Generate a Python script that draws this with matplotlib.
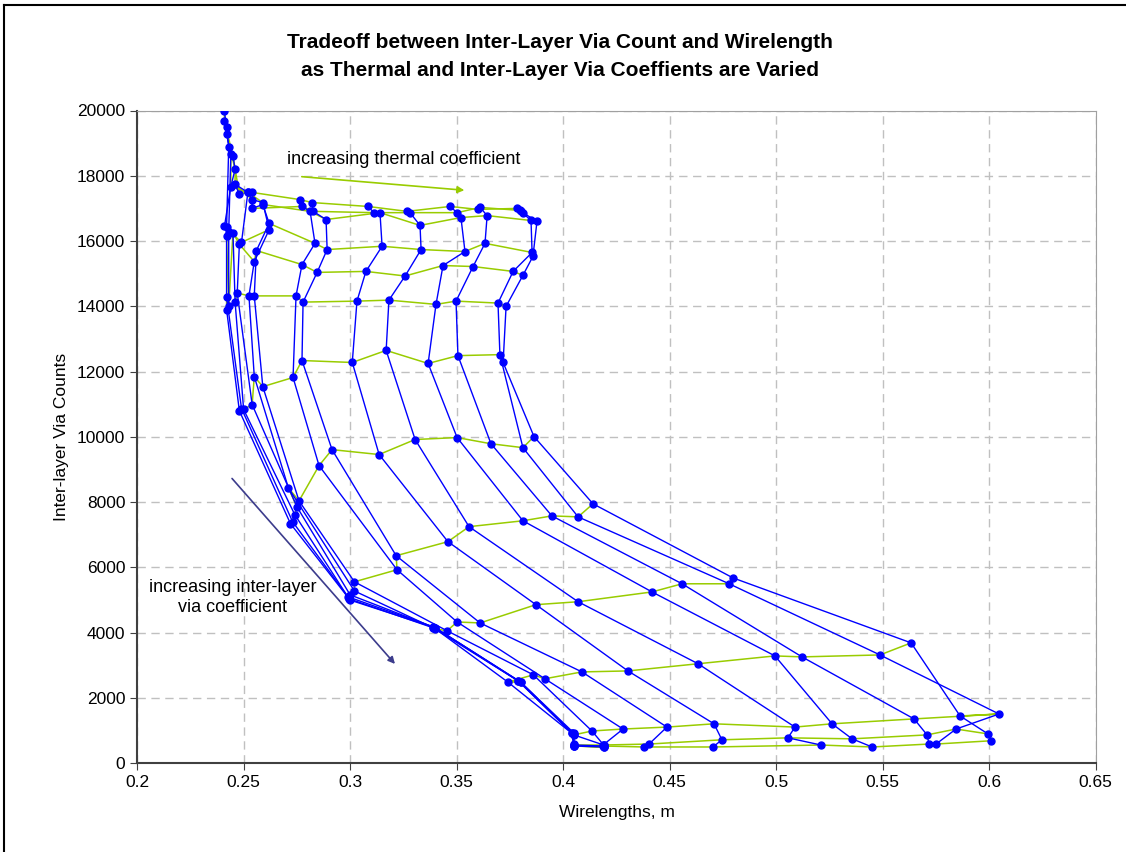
import matplotlib
matplotlib.use("Agg")
import matplotlib.pyplot as plt
from matplotlib.lines import Line2D

plt.rcParams['font.family'] = ['Liberation Sans', 'DejaVu Sans']

# each thermal coefficient -> one blue curve; points ordered by increasing
# inter-layer via coefficient (same index = same via coefficient -> green line)
wl_k1 = [0.241, 0.242, 0.243, 0.242, 0.242, 0.242, 0.249, 0.273, 0.299, 0.339, 0.379, 0.404, 0.405, 0.405]
via_k1 = [19970, 19480, 18870, 16420, 16170, 14280, 10870, 7400, 5100, 4180, 2520, 930, 560, 530]
wl_k2 = [0.241, 0.242, 0.244, 0.243, 0.243, 0.242, 0.248, 0.272, 0.300, 0.340, 0.380, 0.405, 0.405, 0.419]
via_k2 = [19670, 19270, 18660, 16290, 14000, 13900, 10800, 7340, 5000, 4150, 2490, 900, 530, 500]
wl_t1 = [0.245, 0.246, 0.244, 0.241, 0.245, 0.246, 0.250, 0.274, 0.2995, 0.339, 0.379, 0.404, 0.405, 0.405]
via_t1 = [18600, 18200, 17670, 16450, 16260, 14130, 10840, 7620, 5040, 4150, 2520, 930, 590, 530]
wl_t2 = [0.248, 0.246, 0.252, 0.249, 0.248, 0.247, 0.254, 0.275, 0.300, 0.340, 0.380, 0.405, 0.405, 0.419]
via_t2 = [17430, 17740, 17490, 15960, 15900, 14410, 10990, 7860, 5160, 4150, 2490, 930, 560, 530]
wl_t3 = [0.252, 0.254, 0.259, 0.262, 0.255, 0.2525, 0.255, 0.271, 0.302, 0.340, 0.374, 0.405, 0.419, 0.419]
via_t3 = [17490, 17270, 17180, 16350, 15370, 14320, 11850, 8440, 5280, 4120, 2490, 870, 560, 500]
wl_t4 = [0.254, 0.254, 0.259, 0.262, 0.256, 0.255, 0.259, 0.276, 0.302, 0.3455, 0.386, 0.4135, 0.419, 0.419]
via_t4 = [17490, 17000, 17120, 16540, 15710, 14320, 11540, 8040, 5560, 4060, 2710, 990, 560, 530]
wl_t5 = [0.2765, 0.2774, 0.2812, 0.2835, 0.2774, 0.2746, 0.2732, 0.2854, 0.322, 0.3502, 0.3914, 0.4281, 0.4187, 0.4187]
via_t5 = [17270, 17060, 16910, 15930, 15280, 14320, 11820, 9120, 5930, 4330, 2590, 1050, 560, 530]
wl_t6 = [0.2821, 0.2826, 0.2887, 0.2892, 0.2845, 0.2779, 0.2774, 0.2915, 0.3216, 0.361, 0.4088, 0.4487, 0.4403, 0.438]
via_t6 = [17180, 16910, 16660, 15740, 15040, 14130, 12340, 9610, 6360, 4300, 2800, 1110, 590, 500]
wl_t7 = [0.3084, 0.3112, 0.314, 0.315, 0.3074, 0.3032, 0.301, 0.3136, 0.3459, 0.3872, 0.4304, 0.4708, 0.4745, 0.4703]
via_t7 = [17060, 16870, 16870, 15840, 15070, 14160, 12280, 9460, 6790, 4860, 2830, 1210, 720, 500]
wl_t8 = [0.3267, 0.3281, 0.3328, 0.3333, 0.3258, 0.3182, 0.3169, 0.3305, 0.3558, 0.407, 0.4633, 0.5088, 0.5055, 0.521]
via_t8 = [16910, 16870, 16480, 15740, 14930, 14190, 12650, 9920, 7250, 4950, 3050, 1110, 780, 560]
wl_t9 = [0.3469, 0.3502, 0.352, 0.3539, 0.3436, 0.3403, 0.3366, 0.3502, 0.3811, 0.4417, 0.4994, 0.5262, 0.5356, 0.545]
via_t9 = [17060, 16870, 16720, 15680, 15250, 14060, 12250, 9980, 7430, 5250, 3290, 1210, 750, 500]
wl_t10 = [0.360, 0.361, 0.3643, 0.3633, 0.3577, 0.3497, 0.3506, 0.3661, 0.3947, 0.4558, 0.5121, 0.5647, 0.5708, 0.5717]
via_t10 = [16970, 17030, 16780, 15930, 15220, 14160, 12490, 9790, 7580, 5500, 3260, 1360, 870, 590]
wl_t11 = [0.3783, 0.3797, 0.3849, 0.3854, 0.3765, 0.3694, 0.3703, 0.3811, 0.407, 0.4779, 0.5487, 0.6046, 0.5844, 0.575]
via_t11 = [17000, 16940, 16630, 15650, 15070, 14100, 12520, 9670, 7550, 5500, 3320, 1510, 1050, 590]
wl_t12 = [0.3802, 0.3811, 0.3877, 0.3858, 0.3811, 0.3732, 0.3718, 0.3863, 0.414, 0.4797, 0.5633, 0.5863, 0.5994, 0.6008]
via_t12 = [16910, 16870, 16600, 15530, 14950, 14000, 12280, 10010, 7950, 5680, 3690, 1450, 900, 690]

curves = [(wl_k1, via_k1), (wl_k2, via_k2), (wl_t1, via_t1), (wl_t2, via_t2),
          (wl_t3, via_t3), (wl_t4, via_t4), (wl_t5, via_t5), (wl_t6, via_t6),
          (wl_t7, via_t7), (wl_t8, via_t8), (wl_t9, via_t9), (wl_t10, via_t10),
          (wl_t11, via_t11), (wl_t12, via_t12)]

blue = '#0000FF'
green = '#99CC00'

fig = plt.figure(figsize=(11.26, 8.52), dpi=100)
ax = fig.add_axes([137.1 / 1126, 88.7 / 852, 958.7 / 1126, 652.8 / 852])

# green lines: same via coefficient across thermal coefficients
n_rows = len(wl_k1)
for j in range(n_rows):
    ax.plot([c[0][j] for c in curves], [c[1][j] for c in curves],
            color=green, lw=1.1, zorder=2)

# blue curves
for wl, via in curves:
    ax.plot(wl, via, color=blue, lw=1.0, marker='o', ms=5, zorder=3)

ax.set_xlim(0.2, 0.65)
ax.set_ylim(0, 20000)
ax.set_xticks([0.2, 0.25, 0.3, 0.35, 0.4, 0.45, 0.5, 0.55, 0.6, 0.65])
ax.set_xticklabels(['0.2', '0.25', '0.3', '0.35', '0.4', '0.45', '0.5', '0.55', '0.6', '0.65'])
ax.set_yticks(range(0, 20001, 2000))
ax.tick_params(labelsize=12.5, length=5, color='#404040')
ax.grid(True, color='#c0c0c0', linestyle=(0, (6, 4)), lw=1.0)
ax.set_axisbelow(True)
for s in ['top', 'right']:
    ax.spines[s].set_color('#a0a0a0')
for s in ['left', 'bottom']:
    ax.spines[s].set_color('#404040')
    ax.spines[s].set_linewidth(1.5)

ax.set_xlabel('Wirelengths, m', fontsize=12.5, labelpad=11)
ax.set_ylabel('Inter-layer Via Counts', fontsize=12.5, labelpad=6)

fig.text(0.497, 0.934, 'Tradeoff between Inter-Layer Via Count and Wirelength\n'
         'as Thermal and Inter-Layer Via Coeffients are Varied',
         ha='center', va='center', fontsize=15, fontweight='bold', linespacing=1.6)

# annotations
ax.text(0.2704, 18500, 'increasing thermal coefficient', fontsize=13, va='center')
ax.annotate('', xy=(0.3549, 17550), xytext=(0.2760, 17980),
            arrowprops=dict(arrowstyle='-|>', color=green, lw=1.2, mutation_scale=10))
ax.text(0.245, 5070, 'increasing inter-layer\nvia coefficient', fontsize=13,
        ha='center', va='center', linespacing=1.25, zorder=5)
ax.annotate('', xy=(0.3219, 2980), xytext=(0.2437, 8790),
            arrowprops=dict(arrowstyle='-|>', color='#3c3c8c', lw=1.2, mutation_scale=10))

# outer chart border (top and left visible)
fig.add_artist(Line2D([4 / 1126, 1], [1 - 5 / 852, 1 - 5 / 852], color='black', lw=1.5))
fig.add_artist(Line2D([4 / 1126, 4 / 1126], [0, 1 - 5 / 852], color='black', lw=1.5))

fig.savefig('out.png', dpi=100)
